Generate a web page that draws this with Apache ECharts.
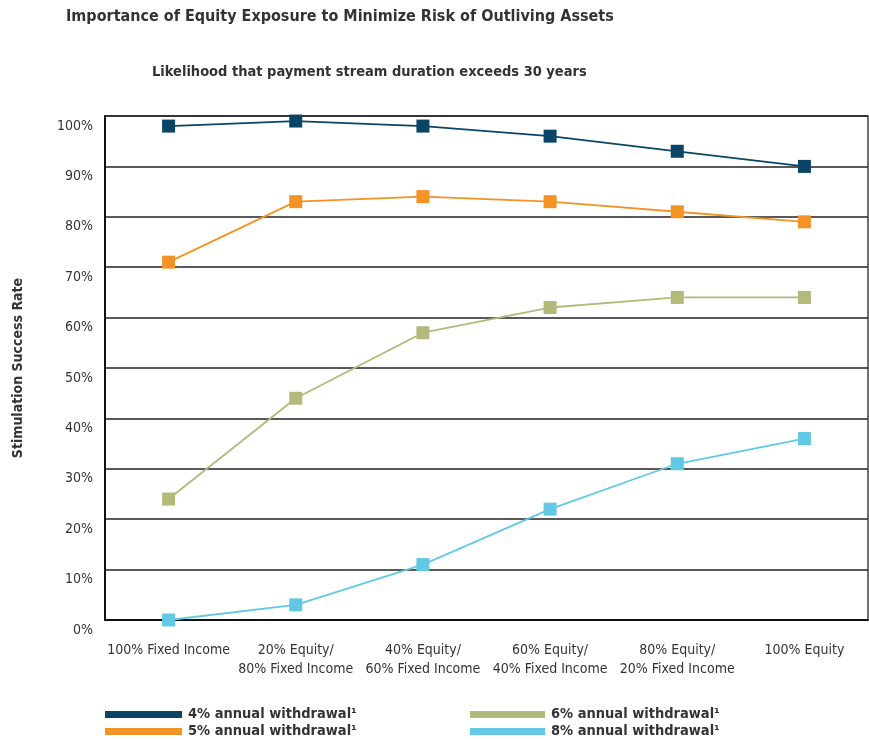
<!DOCTYPE html>
<html>
<head>
<meta charset="utf-8">
<script src="https://cdn.jsdelivr.net/npm/echarts@6/dist/echarts.min.js"></script>
<style>
  html, body { margin: 0; padding: 0; background: #fff; }
  #chart { width: 869px; height: 740px; }
</style>
</head>
<body>
<div id="chart"></div>
<script>
// Asset allocation mixes along the horizontal axis
const categories = [
  '100% Fixed Income',
  '20% Equity/\n80% Fixed Income',
  '40% Equity/\n60% Fixed Income',
  '60% Equity/\n40% Fixed Income',
  '80% Equity/\n20% Fixed Income',
  '100% Equity'
];

// Simulation success rate (%) for each withdrawal rate
const withdrawal4 = [98, 99, 98, 96, 93, 90];
const withdrawal5 = [71, 83, 84, 83, 81, 79];
const withdrawal6 = [24, 44, 57, 62, 64, 64];
const withdrawal8 = [0, 3, 11, 22, 31, 36];

const seriesNames = [
  '4% annual withdrawal\u00b9',
  '5% annual withdrawal\u00b9',
  '6% annual withdrawal\u00b9',
  '8% annual withdrawal\u00b9'
];
const seriesColors = ['#0a4566', '#f39325', '#b3b97b', '#62c9e5'];

const FONT = '"Liberation Sans Narrow", "DejaVu Sans Condensed", "Liberation Sans", sans-serif';

const chart = echarts.init(document.getElementById('chart'), null, { renderer: 'canvas' });

function lineSeries(name, data, color) {
  return {
    name: name,
    type: 'line',
    data: data,
    symbol: 'rect',
    symbolSize: 13,
    lineStyle: { color: color, width: 1.8 },
    itemStyle: { color: color },
    animation: false
  };
}

// One legend entry per component so the 2x2 key can be placed freely
function legendItem(name, left, top, width) {
  return {
    data: [name],
    left: left,
    top: top,
    padding: 0,
    icon: 'rect',
    itemWidth: width,
    itemHeight: 7,
    textStyle: { fontFamily: FONT, fontSize: 14.5, fontWeight: 'bold', color: '#333', padding: [0, 0, 0, 1] },
    selectedMode: false
  };
}

chart.setOption({
  backgroundColor: '#fff',
  title: [
    {
      text: 'Importance of Equity Exposure to Minimize Risk of Outliving Assets',
      left: 66, top: 9, padding: 0,
      textStyle: { fontFamily: FONT, fontSize: 16, fontWeight: 'bold', color: '#333' }
    },
    {
      text: 'Likelihood that payment stream duration exceeds 30 years',
      left: 152, top: 65, padding: 0,
      textStyle: { fontFamily: FONT, fontSize: 14.5, fontWeight: 'bold', color: '#333' }
    }
  ],
  legend: [
    legendItem(seriesNames[0], 105, 707, 77),
    legendItem(seriesNames[1], 105, 724, 77),
    legendItem(seriesNames[2], 470, 707, 75),
    legendItem(seriesNames[3], 470, 724, 75)
  ],
  grid: {
    left: 105, right: 1, top: 116, bottom: 120,
    outerBoundsMode: 'none',
    containLabel: false,
    show: true, borderColor: '#444', borderWidth: 1.5, backgroundColor: 'transparent'
  },
  xAxis: {
    type: 'category',
    data: categories,
    boundaryGap: true,
    axisLine: { lineStyle: { color: '#111', width: 2 } },
    axisTick: { alignWithLabel: true, length: 5, lineStyle: { color: '#111', width: 1.5 } },
    axisLabel: {
      fontFamily: FONT, fontSize: 14, color: '#333', margin: 21, lineHeight: 19,
      interval: 0
    }
  },
  yAxis: {
    type: 'value',
    min: 0, max: 100, interval: 10,
    name: 'Stimulation Success Rate',
    nameLocation: 'middle',
    nameGap: 80,
    nameTextStyle: { fontFamily: FONT, fontSize: 14, fontWeight: 'bold', color: '#333' },
    axisLine: { show: true, lineStyle: { color: '#111', width: 2 } },
    axisTick: { show: false },
    splitLine: { lineStyle: { color: '#222', width: 1.5 } },
    axisLabel: {
      formatter: '{value}%',
      fontFamily: FONT, fontSize: 14, color: '#333', margin: 12,
      verticalAlign: 'top', padding: [3, 0, 0, 0]
    }
  },
  series: [
    lineSeries(seriesNames[0], withdrawal4, seriesColors[0]),
    lineSeries(seriesNames[1], withdrawal5, seriesColors[1]),
    lineSeries(seriesNames[2], withdrawal6, seriesColors[2]),
    lineSeries(seriesNames[3], withdrawal8, seriesColors[3])
  ]
});
</script>
</body>
</html>
